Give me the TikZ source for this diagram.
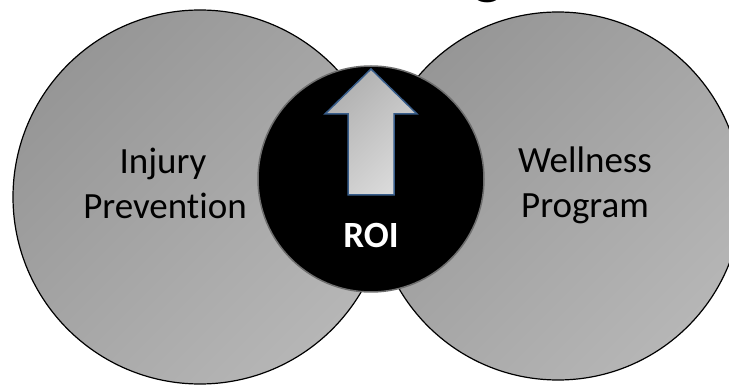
\documentclass[tikz,border=0pt]{standalone}
\usepackage{fontspec}
\setmainfont{Carlito}[Ligatures=NoCommon]
\definecolor{discdark}{RGB}{150,150,150}
\definecolor{disclight}{RGB}{182,182,182}
\definecolor{roiedge}{RGB}{110,110,110}
\definecolor{arrowdark}{RGB}{176,176,176}
\definecolor{arrowlight}{RGB}{218,218,218}
\definecolor{arrowedge}{RGB}{56,93,138}
\begin{document}
\begin{tikzpicture}[x=1pt,y=-1pt,
  disc/.style={draw=black, line width=1.2pt, top color=discdark, bottom color=disclight, shading angle=45},
  roidisc/.style={fill=black, draw=roiedge, line width=1.5pt},
  uparrow/.style={draw=arrowedge, line width=1.5pt, line join=miter, top color=arrowdark, bottom color=arrowlight, shading angle=45},
  lbl/.style={font=\fontsize{37}{45}\selectfont, text=black, inner sep=0pt, anchor=base},
  roilbl/.style={font=\fontsize{37}{45}\selectfont\bfseries, text=white, inner sep=0pt, anchor=base}]
  \useasboundingbox (0,0) rectangle (729,387);
  \clip (0,0) rectangle (729,387);

  % tail of the cut-off heading
  \node[font=\fontsize{66}{70}\selectfont, inner sep=0pt, anchor=base] (heading) at (488,-8) {g};

  % two outer discs
  \shade[disc] (200,197) circle [radius=187];
  \shade[disc] (558,196) circle [radius=184];

  % central ROI disc
  \filldraw[roidisc] (371,179) circle [radius=113];

  % upward arrow inside the ROI disc
  \shade[uparrow] (371,69) -- (417,114) -- (394,114) -- (394,195)
    -- (348,195) -- (348,114) -- (325,114) -- cycle;

  % labels
  \node[lbl] (inj1) at (163,174) {Injury};
  \node[lbl] (inj2) at (165,219) {Prevention};
  \node[lbl] (well1) at (585,173) {Wellness};
  \node[lbl] (well2) at (585,218) {Program};
  \node[roilbl] (roi) at (371,248) {ROI};
\end{tikzpicture}
\end{document}
